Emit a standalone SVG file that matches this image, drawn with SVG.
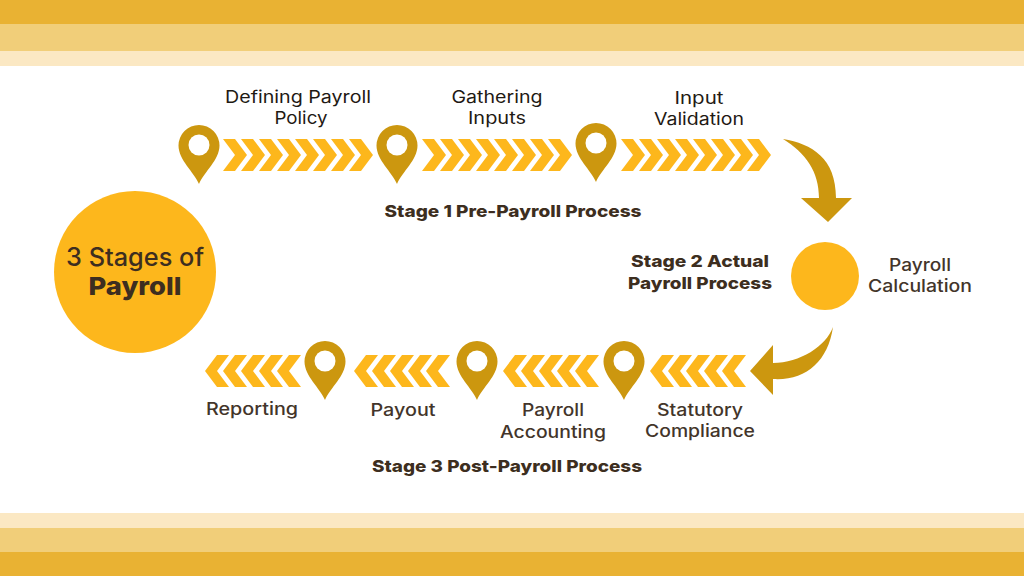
<svg xmlns="http://www.w3.org/2000/svg" width="1024" height="576" viewBox="0 0 1024 576">
<style>
text{font-family:Inter,"Open Sans","Liberation Sans",sans-serif;text-anchor:middle}
.l{font-size:17px;font-weight:400;fill:#1f1a14}
.d{font-size:17px;font-weight:500;fill:#43352a}
.s{font-size:16.5px;font-weight:800;fill:#3d2e20}
.c{fill:#fdb71c}
.a{fill:#cc970f}
</style>
<defs>
<path id="cr" class="c" d="M0-16h12l12 16-12 16H0L12 0z"/>
<path id="cl" class="c" d="M24-16H12L0 0l12 16h12L12 0z"/>
<g id="r8"><use href="#cr" x="0"/><use href="#cr" x="18"/><use href="#cr" x="36"/><use href="#cr" x="54"/><use href="#cr" x="72"/><use href="#cr" x="90"/><use href="#cr" x="108"/><use href="#cr" x="126"/></g>
<g id="l5"><use href="#cl" x="0"/><use href="#cl" x="18"/><use href="#cl" x="36"/><use href="#cl" x="54"/><use href="#cl" x="72"/></g>
<g id="pin"><path class="a" d="M0 59C-5 47-20.500 35-20.500 20.500A20.500 20.500 0 0 1 20.500 20.500C20.500 35 5 47 0 59z"/><circle cy="20" r="10.500" fill="#fff"/></g>
</defs>
<g id="bands">
<rect width="1024" height="24" fill="#e9b233"/><rect y="24" width="1024" height="27" fill="#f1ce79"/><rect y="51" width="1024" height="15" fill="#fbe8c3"/>
<rect y="513" width="1024" height="15" fill="#fbe8c3"/><rect y="528" width="1024" height="24" fill="#f1ce79"/><rect y="552" width="1024" height="24" fill="#e9b233"/>
</g>
<g id="connectors">
<use href="#r8" x="223" y="155"/><use href="#r8" x="422" y="155"/><use href="#r8" x="621" y="155"/>
<use href="#l5" x="650" y="371"/><use href="#l5" x="503" y="371"/><use href="#l5" x="354" y="371"/><use href="#l5" x="205" y="371"/>
<path class="a" d="M783 139C812 144 836 158 836 198H852L828 222 801 198H819C819 172 806 153 783 139z"/>
<path class="a" d="M833 327C826 346 800 363 773 363V345L750 371 773 395V379C805 381 828 362 833 327z"/>
</g>
<g id="title"><circle class="c" cx="135" cy="272" r="81"/><text x="135" y="266" font-size="25" font-weight="500" fill="#3d2e20" textLength="138" lengthAdjust="spacingAndGlyphs">3 Stages of</text><text x="135" y="295" font-size="25" font-weight="800" fill="#3d2e20" textLength="93" lengthAdjust="spacingAndGlyphs">Payroll</text></g>
<g id="n1"><use href="#pin" x="199" y="125"/><text class="l" x="298" y="103" textLength="146" lengthAdjust="spacingAndGlyphs">Defining Payroll</text><text class="l" x="301" y="124" textLength="53" lengthAdjust="spacingAndGlyphs">Policy</text></g>
<g id="n2"><use href="#pin" x="397" y="125"/><text class="l" x="497" y="103" textLength="91" lengthAdjust="spacingAndGlyphs">Gathering</text><text class="l" x="497" y="124" textLength="58" lengthAdjust="spacingAndGlyphs">Inputs</text></g>
<g id="n3"><use href="#pin" x="596" y="123"/><text class="l" x="699" y="104" textLength="49" lengthAdjust="spacingAndGlyphs">Input</text><text class="l" x="699" y="125" textLength="90" lengthAdjust="spacingAndGlyphs">Validation</text></g>
<g id="stage1"><text class="s" x="513" y="217" textLength="257" lengthAdjust="spacingAndGlyphs">Stage 1 Pre-Payroll Process</text></g>
<g id="stage2"><text class="s" x="700" y="267" textLength="138" lengthAdjust="spacingAndGlyphs">Stage 2 Actual</text><text class="s" x="700" y="289" textLength="144" lengthAdjust="spacingAndGlyphs">Payroll Process</text></g>
<g id="n4"><circle class="c" cx="825" cy="276" r="34"/><text class="d" x="920" y="271" textLength="62" lengthAdjust="spacingAndGlyphs">Payroll</text><text class="d" x="920" y="292" textLength="104" lengthAdjust="spacingAndGlyphs">Calculation</text></g>
<g id="n5"><use href="#pin" x="624" y="341"/><text class="d" x="700" y="416" textLength="86" lengthAdjust="spacingAndGlyphs">Statutory</text><text class="d" x="700" y="437" textLength="110" lengthAdjust="spacingAndGlyphs">Compliance</text></g>
<g id="n6"><use href="#pin" x="477" y="341"/><text class="d" x="553" y="416" textLength="62" lengthAdjust="spacingAndGlyphs">Payroll</text><text class="d" x="553" y="438" textLength="106" lengthAdjust="spacingAndGlyphs">Accounting</text></g>
<g id="n7"><use href="#pin" x="325" y="341"/><text class="d" x="403" y="416" textLength="65" lengthAdjust="spacingAndGlyphs">Payout</text></g>
<g id="n8"><text class="d" x="252" y="415" textLength="92" lengthAdjust="spacingAndGlyphs">Reporting</text></g>
<g id="stage3"><text class="s" x="507" y="472" textLength="270" lengthAdjust="spacingAndGlyphs">Stage 3 Post-Payroll Process</text></g>
</svg>
